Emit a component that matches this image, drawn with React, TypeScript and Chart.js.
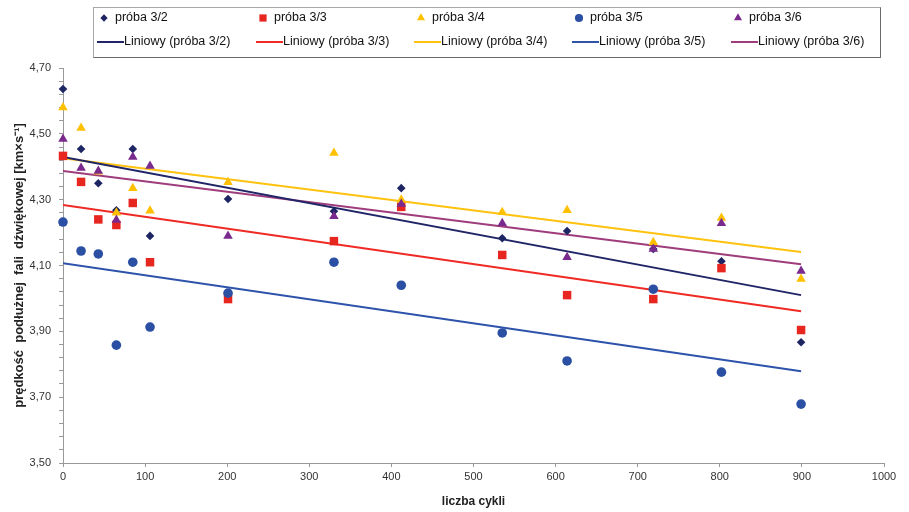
import React, { useEffect, useRef } from 'react';
import { Chart, registerables } from 'chart.js';
import { drawPoint } from 'chart.js/helpers';

Chart.register(...registerables);

// ---- data ----
const cycles = [0, 22, 43, 65, 85, 106, 201, 330, 412, 535, 614, 719, 802, 899];
const proba32 = [4.636, 4.454, 4.35, 4.268, 4.454, 4.19, 4.302, 4.265, 4.335, 4.183, 4.205, 4.15, 4.113, 3.867];
const proba33 = [4.433, 4.354, 4.24, 4.223, 4.29, 4.11, 3.998, 4.174, 4.278, 4.132, 4.01, 3.998, 4.092, 3.904];
const proba34 = [4.58, 4.518, 4.385, 4.26, 4.335, 4.266, 4.353, 4.442, 4.3, 4.262, 4.268, 4.171, 4.244, 4.059];
const proba35 = [4.232, 4.144, 4.135, 3.858, 4.11, 3.913, 4.016, 4.11, 4.04, 3.895, 3.81, 4.028, 3.776, 3.679];
const proba36 = [4.484, 4.396, 4.387, 4.238, 4.43, 4.402, 4.19, 4.25, 4.287, 4.228, 4.125, 4.15, 4.228, 4.083];

// linear trend lines (end points)
const trendX = [0, 899];
const trend32 = [4.43, 4.01];
const trend33 = [4.284, 3.961];
const trend34 = [4.426, 4.141];
const trend35 = [4.107, 3.779];
const trend36 = [4.387, 4.104];

const seriesLabels = ['próba 3/2', 'próba 3/3', 'próba 3/4', 'próba 3/5', 'próba 3/6'];
const trendLabels = ['Liniowy (próba 3/2)', 'Liniowy (próba 3/3)', 'Liniowy (próba 3/4)', 'Liniowy (próba 3/5)', 'Liniowy (próba 3/6)'];
const markerColors = ['#1e2563', '#e6261f', '#ffc000', '#2a4fa3', '#7a2a8c'];
const lineColors = ['#1f2566', '#ef2a24', '#ffc20e', '#2e53aa', '#9e3c7c'];
const markerStyles = ['rectRot', 'rect', 'triangle', 'circle', 'triangle'];
const markerRadius = [4.3, 6, 5.5, 4.8, 5.5];

const FONT = '"Liberation Sans", Arial, sans-serif';

const toPoints = (xs: number[], ys: number[]) => xs.map((x, i) => ({ x, y: ys[i] }));

const legendPlugin = {
  id: 'gridLegend',
  afterDraw(chart: any) {
    const ctx = chart.ctx as CanvasRenderingContext2D;
    ctx.save();
    // box
    ctx.fillStyle = '#ffffff';
    ctx.fillRect(93.5, 7.5, 787, 50);
    ctx.strokeStyle = '#a8a8a8';
    ctx.lineWidth = 1;
    ctx.strokeRect(93.5, 7.5, 787, 50);
    ctx.strokeStyle = '#6a6a6a';
    ctx.beginPath();
    ctx.moveTo(880.5, 7.5);
    ctx.lineTo(880.5, 57.5);
    ctx.lineTo(93.5, 57.5);
    ctx.stroke();

    const cols = [97, 256, 414, 572, 731];
    const row1 = 18;
    const row2 = 42;
    ctx.font = '12.5px ' + FONT;
    ctx.textBaseline = 'middle';
    ctx.textAlign = 'left';
    const ds = chart.data.datasets;
    for (let i = 0; i < 5; i++) {
      const m = ds[i];
      ctx.fillStyle = m.backgroundColor;
      ctx.strokeStyle = m.borderColor;
      drawPoint(ctx, { pointStyle: m.pointStyle, radius: m.pointRadius * 0.85, rotation: 0, borderWidth: 0 } as any, cols[i] + 7, row1);
      ctx.fillStyle = '#111';
      ctx.fillText(m.label, cols[i] + 18, row1);
      const t = ds[i + 5];
      ctx.strokeStyle = t.borderColor;
      ctx.lineWidth = 2;
      ctx.beginPath();
      ctx.moveTo(cols[i], row2);
      ctx.lineTo(cols[i] + 27, row2);
      ctx.stroke();
      ctx.fillStyle = '#111';
      ctx.fillText(t.label, cols[i] + 27, row2);
    }
    ctx.restore();
  },
};

export default function App() {
  const ref = useRef<HTMLCanvasElement | null>(null);

  useEffect(() => {
    if (!ref.current) return;
    Chart.defaults.font.family = FONT;
    const series = [proba32, proba33, proba34, proba35, proba36];
    const trends = [trend32, trend33, trend34, trend35, trend36];

    const markerSets = series.map((ys, i) => ({
      type: 'scatter' as const,
      label: seriesLabels[i],
      data: toPoints(cycles, ys),
      pointStyle: markerStyles[i],
      pointRadius: markerRadius[i],
      pointBackgroundColor: markerColors[i],
      pointBorderColor: markerColors[i],
      backgroundColor: markerColors[i],
      borderColor: markerColors[i],
      pointBorderWidth: 0,
      showLine: false,
      clip: false as any,
      order: 5 - i,
    }));
    const trendSets = trends.map((ys, i) => ({
      type: 'scatter' as const,
      label: trendLabels[i],
      data: toPoints(trendX, ys),
      showLine: true,
      borderColor: lineColors[i],
      backgroundColor: lineColors[i],
      borderWidth: 2,
      pointRadius: 0,
      order: 10,
    }));

    const chart = new Chart(ref.current, {
      type: 'scatter',
      data: { datasets: [...markerSets, ...trendSets] as any },
      options: {
        responsive: false,
        animation: false,
        devicePixelRatio: 1,
        layout: { padding: { top: 68, right: 25, left: 0, bottom: 0 } },
        plugins: { legend: { display: false }, tooltip: { enabled: false } },
        scales: {
          x: {
            type: 'linear',
            min: 0,
            max: 1000,
            ticks: {
              stepSize: 100,
              autoSkip: false,
              maxRotation: 0,
              padding: 3,
              color: '#333',
              font: { size: 11, family: FONT },
              callback: (v: any) => String(v),
            },
            grid: { drawOnChartArea: false, drawTicks: true, tickLength: 4, color: '#999' },
            border: { color: '#999', width: 1 },
            title: {
              display: true,
              text: 'liczba cykli',
              color: '#222',
              font: { size: 12, weight: 'bold', family: FONT },
              padding: { top: 0, bottom: 3 },
            },
            afterFit: (s: any) => {
              s.height = 49;
            },
          },
          y: {
            type: 'linear',
            min: 3.5,
            max: 4.7,
            ticks: {
              stepSize: 0.04,
              autoSkip: false,
              padding: 8,
              color: '#333',
              font: { size: 11, family: FONT },
              callback: (v: any) => {
                const c = Math.round(Number(v) * 100);
                return c % 20 === 10 ? (c / 100).toFixed(2).replace('.', ',') : '';
              },
            },
            grid: { drawOnChartArea: false, drawTicks: true, tickLength: 4, color: '#999' },
            border: { color: '#999', width: 1 },
            title: {
              display: true,
              text: 'prędkość  podłużnej  fali  dźwiękowej [km×s⁻¹]',
              color: '#222',
              font: { size: 13, weight: 'bold', family: FONT },
              padding: { top: 12, bottom: 0 },
            },
            afterFit: (s: any) => {
              s.width = 63;
            },
          },
        },
      } as any,
      plugins: [legendPlugin],
    });
    return () => chart.destroy();
  }, []);

  return (
    <div style={{ position: 'fixed', left: 0, top: 0, width: 909, height: 512, background: '#fff' }}>
      <canvas ref={ref} width={909} height={512} style={{ display: 'block' }} />
    </div>
  );
}
